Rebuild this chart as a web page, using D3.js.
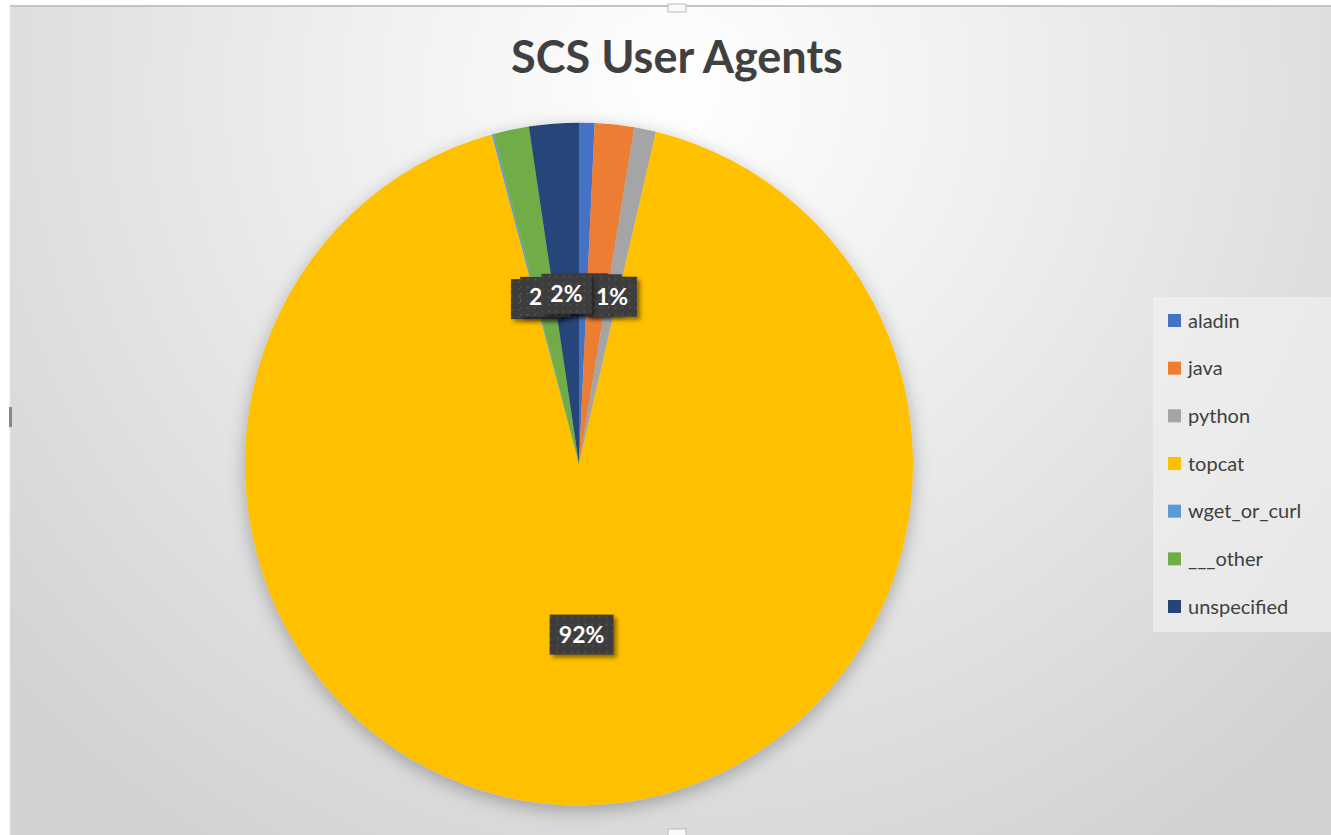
<!DOCTYPE html>
<html>
<head>
<meta charset="utf-8">
<script src="https://cdn.jsdelivr.net/npm/d3@7"></script>
<style>
  body { margin: 0; background: #fff; }
  text { font-family: Lato, "Open Sans", sans-serif; }
</style>
</head>
<body>
<div id="main"></div>
<script>
// dataset
const categories = ['aladin', 'java', 'python', 'topcat', 'wget_or_curl', '___other', 'unspecified'];
const values = [0.75, 1.9, 1.05, 92.1, 0.1, 1.7, 2.4];
const colors = ['#4472c4', '#ed7d31', '#a5a5a5', '#ffc000', '#5b9bd5', '#70ad47', '#264478'];
const title = 'SCS User Agents';

const W = 1331, H = 835;
const cx = 579, cy = 464;
const radius = 334;
const squash = 1.022; // the picture is slightly taller than wide

const svg = d3.select('#main').append('svg')
  .attr('width', W)
  .attr('height', H);

const defs = svg.append('defs');

const bg = defs.append('radialGradient')
  .attr('id', 'bg')
  .attr('gradientUnits', 'userSpaceOnUse')
  .attr('cx', 677).attr('cy', 90).attr('r', 900);
bg.append('stop').attr('offset', '0%').attr('stop-color', '#ffffff');
bg.append('stop').attr('offset', '35%').attr('stop-color', '#f0f0f0');
bg.append('stop').attr('offset', '100%').attr('stop-color', '#d2d2d2');

const pieShadow = defs.append('filter').attr('id', 'pieShadow')
  .attr('x', '-20%').attr('y', '-20%').attr('width', '140%').attr('height', '140%');
pieShadow.append('feDropShadow')
  .attr('dx', 0).attr('dy', 5).attr('stdDeviation', 9)
  .attr('flood-color', '#000').attr('flood-opacity', 0.28);

const boxShadow = defs.append('filter').attr('id', 'boxShadow')
  .attr('x', '-30%').attr('y', '-30%').attr('width', '160%').attr('height', '160%');
boxShadow.append('feDropShadow')
  .attr('dx', 3).attr('dy', 3).attr('stdDeviation', 2)
  .attr('flood-color', '#000').attr('flood-opacity', 0.45);

const dots = defs.append('pattern')
  .attr('id', 'dots')
  .attr('patternUnits', 'userSpaceOnUse')
  .attr('width', 7).attr('height', 7);
dots.append('rect').attr('width', 7).attr('height', 7).attr('fill', '#3d3d3d');
dots.append('rect').attr('x', 3).attr('y', 3).attr('width', 1.5).attr('height', 1.5).attr('fill', '#5a5a5a');

// chart area
svg.append('rect')
  .attr('x', 10).attr('y', 6)
  .attr('width', W - 10).attr('height', H - 6)
  .attr('fill', 'url(#bg)');
svg.append('line')
  .attr('x1', 10).attr('y1', 6).attr('x2', W).attr('y2', 6)
  .attr('stroke', '#c4c4c4').attr('stroke-width', 2);
svg.append('line')
  .attr('x1', 10).attr('y1', 6).attr('x2', 10).attr('y2', H)
  .attr('stroke', '#e6e6e6').attr('stroke-width', 1);

// selection handles
svg.append('rect').attr('x', 668).attr('y', 4).attr('width', 18).attr('height', 8)
  .attr('fill', '#fafafa').attr('stroke', '#bbb');
svg.append('rect').attr('x', 668).attr('y', 829).attr('width', 18).attr('height', 8)
  .attr('fill', '#fafafa').attr('stroke', '#bbb');
svg.append('rect').attr('x', 9).attr('y', 407).attr('width', 3).attr('height', 20)
  .attr('fill', '#888');

// title
svg.append('text')
  .attr('x', 677)
  .attr('y', 73)
  .attr('text-anchor', 'middle')
  .attr('font-size', 45)
  .attr('font-weight', 'bold')
  .attr('fill', '#404040')
  .text(title);

// pie
const pie = d3.pie().sort(null).value((d) => d);
const arcs = pie(values);
const arc = d3.arc().innerRadius(0).outerRadius(radius);
const labelArc = d3.arc().innerRadius(radius * 0.5).outerRadius(radius * 0.5);

const chart = svg.append('g')
  .attr('transform', `translate(${cx},${cy}) scale(1,${squash})`);

chart.append('g')
  .attr('filter', 'url(#pieShadow)')
  .selectAll('path')
  .data(arcs)
  .enter()
  .append('path')
  .attr('d', arc)
  .attr('fill', (d, i) => colors[i]);

// data labels
const total = d3.sum(values);
const labels = svg.append('g')
  .selectAll('g')
  .data(arcs)
  .enter()
  .append('g')
  .attr('transform', (d) => {
    const [x, y] = labelArc.centroid(d);
    return `translate(${cx + x},${cy + y * squash})`;
  });

labels.append('rect')
  .attr('x', (d) => (d.value > 10 ? -32 : -25))
  .attr('y', -20)
  .attr('width', (d) => (d.value > 10 ? 64 : 50))
  .attr('height', 40)
  .attr('fill', 'url(#dots)')
  .attr('filter', 'url(#boxShadow)');

labels.append('text')
  .attr('text-anchor', 'middle')
  .attr('dy', '0.36em')
  .attr('font-size', 23)
  .attr('font-weight', 'bold')
  .attr('fill', '#fff')
  .text((d) => `${Math.round(d.value / total * 100)}%`);

// legend
const legend = svg.append('g');
legend.append('rect')
  .attr('x', 1153).attr('y', 297)
  .attr('width', W - 1153).attr('height', 335)
  .attr('fill', '#f4f4f4').attr('opacity', 0.6);

const legendScale = d3.scalePoint()
  .domain(categories)
  .range([321, 607]);

const items = legend.selectAll('g.item')
  .data(categories)
  .enter()
  .append('g')
  .attr('class', 'item')
  .attr('transform', (c) => `translate(1168,${legendScale(c)})`);

items.append('rect')
  .attr('x', 0).attr('y', -7)
  .attr('width', 13).attr('height', 13)
  .attr('fill', (c, i) => colors[i]);

items.append('text')
  .attr('x', 20)
  .attr('dy', '0.33em')
  .attr('font-size', 20)
  .attr('fill', '#404040')
  .text((c) => c);
</script>
</body>
</html>
